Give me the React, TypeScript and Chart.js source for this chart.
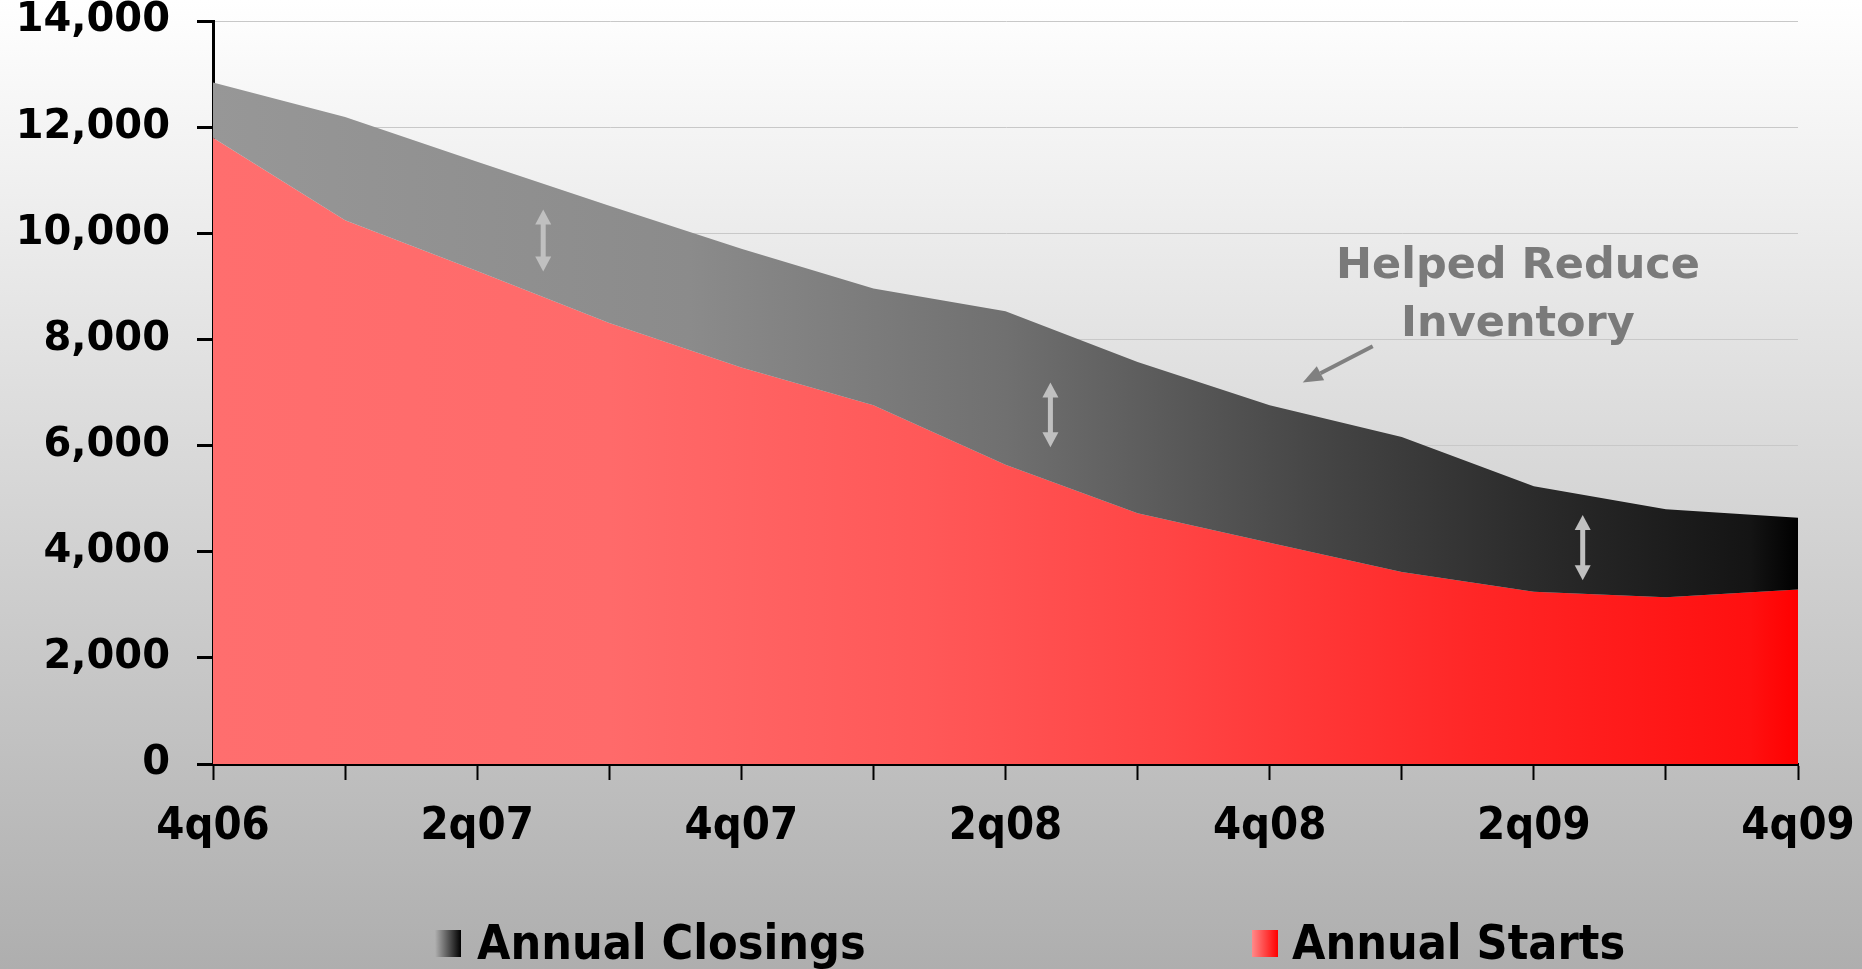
import React, { useEffect, useRef } from 'react';
import { Chart, registerables } from 'chart.js';

Chart.register(...registerables);

const quarters = ['4q06', '1q07', '2q07', '3q07', '4q07', '1q08', '2q08', '3q08', '4q08', '1q09', '2q09', '3q09', '4q09'];
const annualClosings = [12840, 12190, 11350, 10520, 9710, 8960, 8530, 7575, 6760, 6160, 5235, 4800, 4640];
const annualStarts = [11800, 10245, 9290, 8310, 7470, 6760, 5640, 4725, 4170, 3620, 3245, 3140, 3290];
const seriesNames = ['Annual Closings', 'Annual Starts'];
const yMin = 0;
const yMax = 14000;
const yStep = 2000;

// annotation positions in data space (category index, value)
const gapArrows = [
  { x: 2.5, top: 10450, bottom: 9280 },
  { x: 6.34, top: 7190, bottom: 5970 },
  { x: 10.37, top: 4690, bottom: 3460 },
];
const noteLines = ['Helped Reduce', 'Inventory'];
const noteAnchor = { x: 9.88, line1: 9160, line2: 8070 };
const notePointer = { fromX: 8.78, fromY: 7870, toX: 8.25, toY: 7190 };

const W = 1862;
const H = 969;

const closingsStops: [number, string][] = [
  [0, '#979797'],
  [0.3, '#8b8b8b'],
  [0.5, '#707070'],
  [0.7, '#454545'],
  [0.85, '#282828'],
  [0.97, '#141414'],
  [1, '#000000'],
];
const startsStops: [number, string][] = [
  [0, '#ff6e6e'],
  [0.25, '#ff6a6a'],
  [0.45, '#ff5858'],
  [0.6, '#ff4545'],
  [0.8, '#ff2626'],
  [0.97, '#ff1010'],
  [1, '#ff0000'],
];

function hGradient(chart: any, stops: [number, string][], fallback: string) {
  const area = chart.chartArea;
  if (!area) return fallback;
  const g = chart.ctx.createLinearGradient(area.left, 0, area.right, 0);
  stops.forEach(([o, c]) => g.addColorStop(o, c));
  return g;
}

const condensed = '"DejaVu Sans Condensed", "DejaVu Sans", sans-serif';
const wide = '"DejaVu Sans", Verdana, sans-serif';

const bgPlugin = {
  id: 'bgPlugin',
  beforeDraw(chart: any) {
    const ctx = chart.ctx;
    ctx.save();
    const g = ctx.createLinearGradient(0, 0, 0, chart.height);
    g.addColorStop(0, '#ffffff');
    g.addColorStop(1, '#aeaeae');
    ctx.fillStyle = g;
    ctx.fillRect(0, 0, chart.width, chart.height);
    ctx.restore();
  },
};

const annotationPlugin = {
  id: 'annotationPlugin',
  afterDatasetsDraw(chart: any) {
    const ctx = chart.ctx;
    const xs = chart.scales.x;
    const ys = chart.scales.y;
    ctx.save();
    ctx.fillStyle = '#c0c0c0';
    gapArrows.forEach((a) => {
      const x = xs.getPixelForValue(a.x);
      const y1 = ys.getPixelForValue(a.top);
      const y2 = ys.getPixelForValue(a.bottom);
      const hw = 8;
      const hh = 15;
      ctx.beginPath();
      ctx.moveTo(x, y1);
      ctx.lineTo(x + hw, y1 + hh);
      ctx.lineTo(x - hw, y1 + hh);
      ctx.closePath();
      ctx.fill();
      ctx.beginPath();
      ctx.moveTo(x, y2);
      ctx.lineTo(x + hw, y2 - hh);
      ctx.lineTo(x - hw, y2 - hh);
      ctx.closePath();
      ctx.fill();
      ctx.fillRect(x - 2.5, y1 + hh - 1, 5, y2 - y1 - 2 * hh + 2);
    });
    const nx = xs.getPixelForValue(noteAnchor.x);
    ctx.fillStyle = '#7a7a7a';
    ctx.font = `bold 43px ${wide}`;
    ctx.textAlign = 'center';
    ctx.textBaseline = 'alphabetic';
    ctx.fillText(noteLines[0], nx, ys.getPixelForValue(noteAnchor.line1));
    ctx.fillText(noteLines[1], nx, ys.getPixelForValue(noteAnchor.line2));
    const fx = xs.getPixelForValue(notePointer.fromX);
    const fy = ys.getPixelForValue(notePointer.fromY);
    const tx = xs.getPixelForValue(notePointer.toX);
    const ty = ys.getPixelForValue(notePointer.toY);
    const ang = Math.atan2(ty - fy, tx - fx);
    const headL = 20;
    const headW = 8;
    const bx = tx - headL * Math.cos(ang);
    const by = ty - headL * Math.sin(ang);
    ctx.strokeStyle = '#808080';
    ctx.lineWidth = 4;
    ctx.beginPath();
    ctx.moveTo(fx, fy);
    ctx.lineTo(bx, by);
    ctx.stroke();
    ctx.fillStyle = '#808080';
    ctx.beginPath();
    ctx.moveTo(tx, ty);
    ctx.lineTo(bx + headW * Math.sin(ang), by - headW * Math.cos(ang));
    ctx.lineTo(bx - headW * Math.sin(ang), by + headW * Math.cos(ang));
    ctx.closePath();
    ctx.fill();
    ctx.restore();
  },
};

const legendPlugin = {
  id: 'customLegend',
  afterDraw(chart: any) {
    const ctx = chart.ctx;
    ctx.save();
    const items = [
      { name: seriesNames[0], box: 435, text: 477, c0: '#b0b0b0', c1: '#000000' },
      { name: seriesNames[1], box: 1252, text: 1292, c0: '#ff8a8a', c1: '#ff0000' },
    ];
    const boxTop = 930;
    const boxH = 27;
    const boxW = 26;
    items.forEach((it) => {
      const g = ctx.createLinearGradient(it.box, 0, it.box + boxW, 0);
      g.addColorStop(0, it.c0);
      g.addColorStop(1, it.c1);
      ctx.fillStyle = g;
      ctx.fillRect(it.box, boxTop, boxW, boxH);
      ctx.fillStyle = '#000000';
      ctx.font = `bold 48px ${condensed}`;
      ctx.textAlign = 'left';
      ctx.textBaseline = 'alphabetic';
      ctx.fillText(it.name, it.text, 959);
    });
    ctx.restore();
  },
};

export default function App() {
  const ref = useRef<HTMLCanvasElement | null>(null);
  useEffect(() => {
    document.body.style.margin = '0';
    const canvas = ref.current;
    if (!canvas) return;
    const chart = new Chart(canvas, {
      type: 'line',
      data: {
        labels: quarters,
        datasets: [
          {
            label: seriesNames[0],
            data: annualClosings,
            fill: '+1',
            borderWidth: 0,
            pointRadius: 0,
            tension: 0,
            backgroundColor: (c: any) => hGradient(c.chart, closingsStops, '#777777'),
          },
          {
            label: seriesNames[1],
            data: annualStarts,
            fill: 'origin',
            borderWidth: 0,
            pointRadius: 0,
            tension: 0,
            backgroundColor: (c: any) => hGradient(c.chart, startsStops, '#ff4040'),
          },
        ],
      },
      options: {
        responsive: false,
        animation: false,
        events: [],
        layout: { padding: { top: 21, right: 64, left: 0, bottom: 0 } },
        plugins: {
          legend: { display: false },
          tooltip: { enabled: false },
          title: { display: false },
        },
        scales: {
          x: {
            type: 'category',
            offset: false,
            border: { display: true, color: '#000000', width: 3 },
            grid: {
              drawOnChartArea: false,
              drawTicks: true,
              tickLength: 16,
              tickColor: '#000000',
              tickWidth: 2,
              color: '#000000',
            },
            ticks: {
              autoSkip: false,
              maxRotation: 0,
              minRotation: 0,
              padding: 20,
              color: '#000000',
              font: { family: condensed, size: 45, weight: 'bold' },
              callback: (_v: any, i: number) => (i % 2 === 0 ? quarters[i] : ''),
            },
            afterFit: (s: any) => {
              s.height = 205;
              s.paddingLeft = 0;
              s.paddingRight = 0;
              s.paddingTop = 0;
              s.paddingBottom = 0;
            },
          },
          y: {
            min: yMin,
            max: yMax,
            border: { display: true, color: '#000000', width: 3 },
            grid: {
              color: '#c8c8c8',
              lineWidth: 1,
              drawTicks: true,
              tickLength: 16,
              tickColor: '#000000',
              tickWidth: 3,
            },
            ticks: {
              stepSize: yStep,
              padding: 27,
              color: '#000000',
              font: { family: wide, size: 40, weight: 'bold' },
              callback: (v: any) => Number(v).toLocaleString('en-US'),
            },
            afterFit: (s: any) => {
              s.width = 213;
              s.paddingLeft = 0;
              s.paddingRight = 0;
              s.paddingTop = 0;
              s.paddingBottom = 0;
            },
          },
        },
      },
      plugins: [bgPlugin, annotationPlugin, legendPlugin],
    } as any);
    return () => chart.destroy();
  }, []);
  return (
    <div style={{ width: W, height: H }}>
      <canvas ref={ref} width={W} height={H} style={{ display: 'block', width: W, height: H }} />
    </div>
  );
}
